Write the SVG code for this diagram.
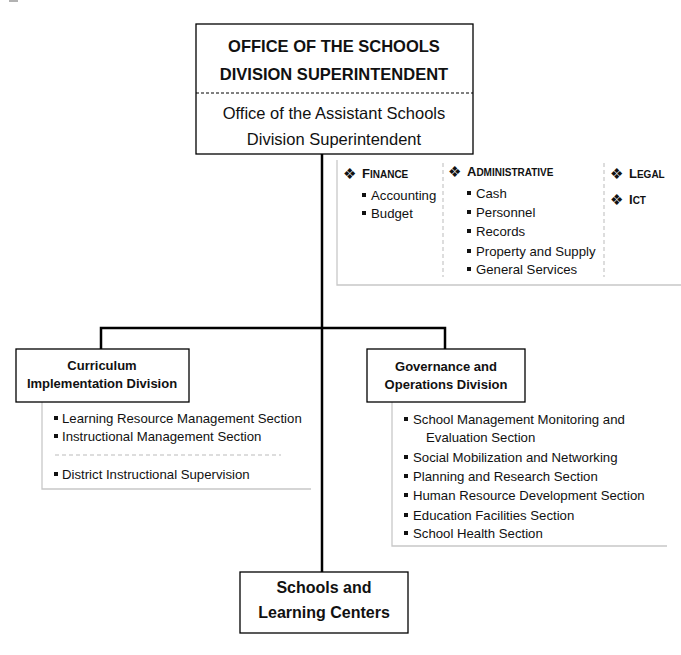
<svg xmlns="http://www.w3.org/2000/svg" width="681" height="655" viewBox="0 0 681 655">
<style>
.box{fill:#fff;stroke:#000;stroke-width:1.3}
.conn{fill:none;stroke:#000;stroke-width:2.5}
.panel{fill:none;stroke:#c8c8c8;stroke-width:1.3}
.sep{stroke:#bbb;stroke-width:1;stroke-dasharray:4 3}
text{font-family:"Liberation Sans",Arial,sans-serif;fill:#111}
.t1{font-size:16.5px;font-weight:bold;text-anchor:middle}
.t2{font-size:16.5px;text-anchor:middle}
.hd{font-size:13px;font-weight:bold;text-anchor:middle}
.it{font-size:13.2px}
.cap{font-size:13px;font-weight:bold}
.cap tspan.s{font-size:10px}
.dia{font-family:"DejaVu Sans",sans-serif;font-size:15px}
.bul{fill:#111}
</style>
<rect x="0" y="0" width="681" height="655" fill="#fff"/>
<line x1="9" y1="1" x2="18" y2="1" stroke="#999" stroke-width="1.5"/>

<g id="connectors">
<line class="conn" x1="322" y1="154" x2="322" y2="572"/>
<polyline class="conn" points="101,349 101,328 445,328 445,349"/>
</g>

<g id="support-units">
<polyline class="panel" points="337,160 337,285 681,285"/>
<line class="sep" x1="443" y1="163" x2="443" y2="277"/>
<line class="sep" x1="604" y1="163" x2="604" y2="277"/>
<text class="dia" x="343" y="179">❖</text>
<text class="cap" x="362" y="178">F<tspan class="s">INANCE</tspan></text>
<rect class="bul" x="362" y="193" width="4" height="4"/><text class="it" x="371" y="200">Accounting</text>
<rect class="bul" x="362" y="211" width="4" height="4"/><text class="it" x="371" y="218">Budget</text>
<text class="dia" x="448" y="177">❖</text>
<text class="cap" x="467" y="176">A<tspan class="s">DMINISTRATIVE</tspan></text>
<rect class="bul" x="467" y="191" width="4" height="4"/><text class="it" x="476" y="198">Cash</text>
<rect class="bul" x="467" y="210" width="4" height="4"/><text class="it" x="476" y="217">Personnel</text>
<rect class="bul" x="467" y="229" width="4" height="4"/><text class="it" x="476" y="236">Records</text>
<rect class="bul" x="467" y="249" width="4" height="4"/><text class="it" x="476" y="256">Property and Supply</text>
<rect class="bul" x="467" y="267" width="4" height="4"/><text class="it" x="476" y="274">General Services</text>
<text class="dia" x="610" y="179">❖</text>
<text class="cap" x="629" y="178">L<tspan class="s">EGAL</tspan></text>
<text class="dia" x="610" y="205">❖</text>
<text class="cap" x="629" y="204">I<tspan class="s">CT</tspan></text>
</g>

<g id="sds">
<rect class="box" x="196" y="24" width="277" height="130"/>
<line x1="196" y1="93" x2="473" y2="93" stroke="#000" stroke-width="1" stroke-dasharray="3 2"/>
<text class="t1" x="334" y="52">OFFICE OF THE SCHOOLS</text>
<text class="t1" x="334" y="80">DIVISION SUPERINTENDENT</text>
<text class="t2" x="334" y="119">Office of the Assistant Schools</text>
<text class="t2" x="334" y="145">Division Superintendent</text>
</g>

<g id="cid">
<polyline class="panel" points="42,402 42,489 311,489"/>
<rect class="box" x="16" y="349" width="173" height="53"/>
<text class="hd" x="102" y="370">Curriculum</text>
<text class="hd" x="102" y="388">Implementation Division</text>
<rect class="bul" x="54" y="416" width="4" height="4"/><text class="it" x="62" y="423">Learning Resource Management Section</text>
<rect class="bul" x="54" y="434" width="4" height="4"/><text class="it" x="62" y="441">Instructional Management Section</text>
<line class="sep" x1="55" y1="455" x2="281" y2="455"/>
<rect class="bul" x="54" y="472" width="4" height="4"/><text class="it" x="62" y="479">District Instructional Supervision</text>
</g>

<g id="sgod">
<polyline class="panel" points="392,402 392,546 667,546"/>
<rect class="box" x="367" y="349" width="158" height="53"/>
<text class="hd" x="446" y="371">Governance and</text>
<text class="hd" x="446" y="389">Operations Division</text>
<rect class="bul" x="404" y="417" width="4" height="4"/><text class="it" x="413" y="424">School Management Monitoring and</text>
<text class="it" x="426" y="442">Evaluation Section</text>
<rect class="bul" x="404" y="455" width="4" height="4"/><text class="it" x="413" y="462">Social Mobilization and Networking</text>
<rect class="bul" x="404" y="474" width="4" height="4"/><text class="it" x="413" y="481">Planning and Research Section</text>
<rect class="bul" x="404" y="493" width="4" height="4"/><text class="it" x="413" y="500">Human Resource Development Section</text>
<rect class="bul" x="404" y="513" width="4" height="4"/><text class="it" x="413" y="520">Education Facilities Section</text>
<rect class="bul" x="404" y="531" width="4" height="4"/><text class="it" x="413" y="538">School Health Section</text>
</g>

<g id="schools">
<rect class="box" x="240" y="572" width="168" height="61"/>
<text class="t1" x="324" y="593" style="font-size:16px">Schools and</text>
<text class="t1" x="324" y="618" style="font-size:16px">Learning Centers</text>
</g>
</svg>
